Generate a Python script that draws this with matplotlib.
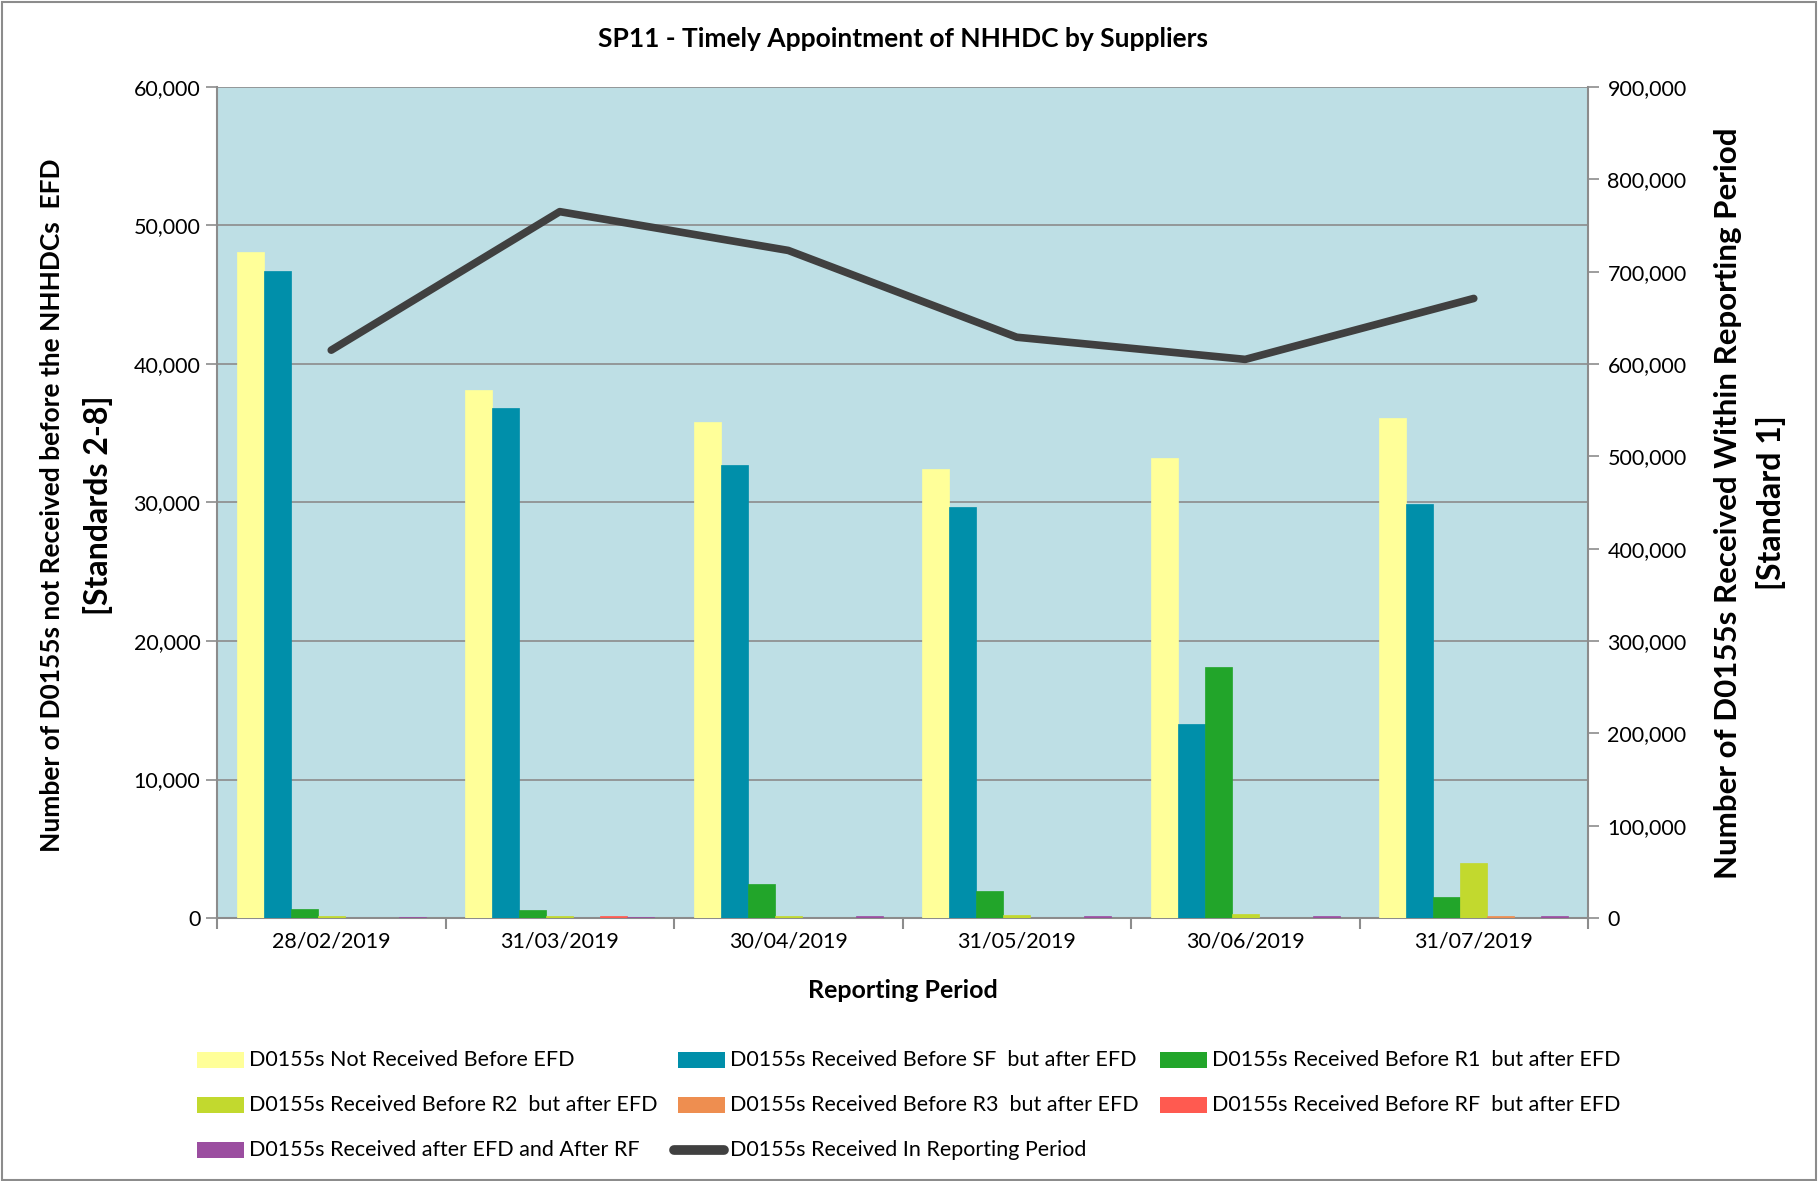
import numpy as np
import matplotlib.pyplot as plt
from matplotlib.patches import Rectangle
from matplotlib.lines import Line2D
from matplotlib.ticker import FuncFormatter, MultipleLocator

plt.rcParams["font.family"] = ["Lato", "DejaVu Sans"]

periods = ["28/02/2019", "31/03/2019", "30/04/2019", "31/05/2019", "30/06/2019", "31/07/2019"]

not_before_efd = [48100, 38100, 35800, 32400, 33200, 36100]
before_sf = [46700, 36800, 32700, 29700, 14000, 29900]
before_r1 = [650, 550, 2480, 1930, 18100, 1490]
before_r2 = [150, 150, 150, 190, 310, 3970]
before_r3 = [0, 0, 0, 0, 0, 150]
before_rf = [0, 150, 0, 0, 0, 0]
after_rf = [50, 50, 150, 150, 150, 150]
in_period = [615000, 765000, 723000, 629000, 605000, 671000]

bar_series = [
    ("D0155s Not Received Before EFD", not_before_efd, "#FFFF99"),
    ("D0155s Received Before SF  but after EFD", before_sf, "#008FAA"),
    ("D0155s Received Before R1  but after EFD", before_r1, "#22A52A"),
    ("D0155s Received Before R2  but after EFD", before_r2, "#C2D92E"),
    ("D0155s Received Before R3  but after EFD", before_r3, "#EE8E50"),
    ("D0155s Received Before RF  but after EFD", before_rf, "#FF5A50"),
    ("D0155s Received after EFD and After RF", after_rf, "#9B4EA0"),
]
line_label = "D0155s Received In Reporting Period"
line_color = "#404040"

W, H = 1818, 1181
fig = plt.figure(figsize=(W / 100, H / 100), dpi=100)
ax = fig.add_axes([217 / W, 1 - 918 / H, (1588 - 217) / W, (918 - 87) / H])
ax.set_facecolor("#BEDFE5")

x = np.arange(len(periods))
bw = 0.825 / 7
for i, (lab, vals, col) in enumerate(bar_series):
    pos = x - 0.825 / 2 + bw * (i + 0.5)
    ax.bar(pos, vals, width=bw, color=col, edgecolor=col, linewidth=0.5, zorder=3)

ax.set_xlim(-0.5, len(periods) - 0.5)
ax.set_ylim(0, 60000)
ax.yaxis.set_major_locator(MultipleLocator(10000))
ax.yaxis.set_major_formatter(FuncFormatter(lambda v, p: f"{int(v):,}"))
ax.grid(axis="y", color="#8C8C8C", linewidth=1.2, zorder=1)
ax.set_axisbelow(True)
ax.set_xticks(x)
ax.set_xticklabels(periods)
ax.set_xticks(np.arange(-0.5, len(periods)), minor=True)
ax.tick_params(axis="x", which="major", length=0, labelsize=15.5, pad=10)
ax.tick_params(axis="x", which="minor", length=8, color="#8C8C8C", width=1.5)
ax.tick_params(axis="y", length=8, color="#8C8C8C", width=1.2, labelsize=15.5, pad=4)
for s in ["left", "right", "bottom"]:
    ax.spines[s].set_color("#8C8C8C")
    ax.spines[s].set_linewidth(1.5)
ax.spines["top"].set_visible(False)

ax2 = ax.twinx()
ax2.plot(x, in_period, color=line_color, linewidth=5.5, solid_capstyle="round", zorder=5)
ax2.set_ylim(0, 900000)
ax2.yaxis.set_major_locator(MultipleLocator(100000))
ax2.yaxis.set_major_formatter(FuncFormatter(lambda v, p: f"{int(v):,}"))
ax2.tick_params(axis="y", length=8, color="#8C8C8C", width=1.2, labelsize=15.5, pad=6)
for s in ["left", "right", "bottom", "top"]:
    ax2.spines[s].set_visible(False)

cx = 0.5 * (217 + 1588) / W
fig.text(cx, 1 - 39 / H, "SP11 - Timely Appointment of NHHDC by Suppliers",
         ha="center", va="center", fontsize=19, fontweight="bold")
fig.text(cx, 1 - 991 / H, "Reporting Period",
         ha="center", va="center", fontsize=18, fontweight="bold")

fig.text(52 / W, 1 - 505 / H, "Number of D0155s not Received before the NHHDCs  EFD",
         rotation=90, ha="center", va="center", fontsize=19, fontweight="bold")
fig.text(98 / W, 1 - 505 / H, "[Standards 2-8]",
         rotation=90, ha="center", va="center", fontsize=23, fontweight="bold")
fig.text(1728 / W, 1 - 503 / H, "Number of D0155s Received Within Reporting Period",
         rotation=90, ha="center", va="center", fontsize=22.5, fontweight="bold")
fig.text(1771 / W, 1 - 503 / H, "[Standard 1]",
         rotation=90, ha="center", va="center", fontsize=23, fontweight="bold")

# legend, laid out by hand in three columns
labels = [b[0] for b in bar_series]
colors = [b[2] for b in bar_series]
row_y = [1060, 1105, 1150]
col_x = [197, 678, 1160]
entries = [(labels[0], colors[0]), (labels[1], colors[1]), (labels[2], colors[2]),
           (labels[3], colors[3]), (labels[4], colors[4]), (labels[5], colors[5]),
           (labels[6], colors[6]), (line_label, None)]
for k, (lab, col) in enumerate(entries):
    r, c = divmod(k, 3)
    px, py = col_x[c], row_y[r]
    if col is None:
        fig.add_artist(Line2D([(px - 4) / W, (px + 46) / W], [1 - py / H, 1 - py / H],
                              color=line_color, linewidth=7, solid_capstyle="round"))
    else:
        fig.patches.append(Rectangle((px / W, 1 - (py + 8) / H), 47 / W, 16 / H,
                                     transform=fig.transFigure, facecolor=col, edgecolor="none"))
    fig.text((px + 52) / W, 1 - py / H, lab, ha="left", va="center", fontsize=15.5)

fig.patches.append(Rectangle((0.001, 0.001), 0.998, 0.997, transform=fig.transFigure,
                             fill=False, edgecolor="#8C8C8C", linewidth=1.5))

fig.savefig("out.png", dpi=100)
